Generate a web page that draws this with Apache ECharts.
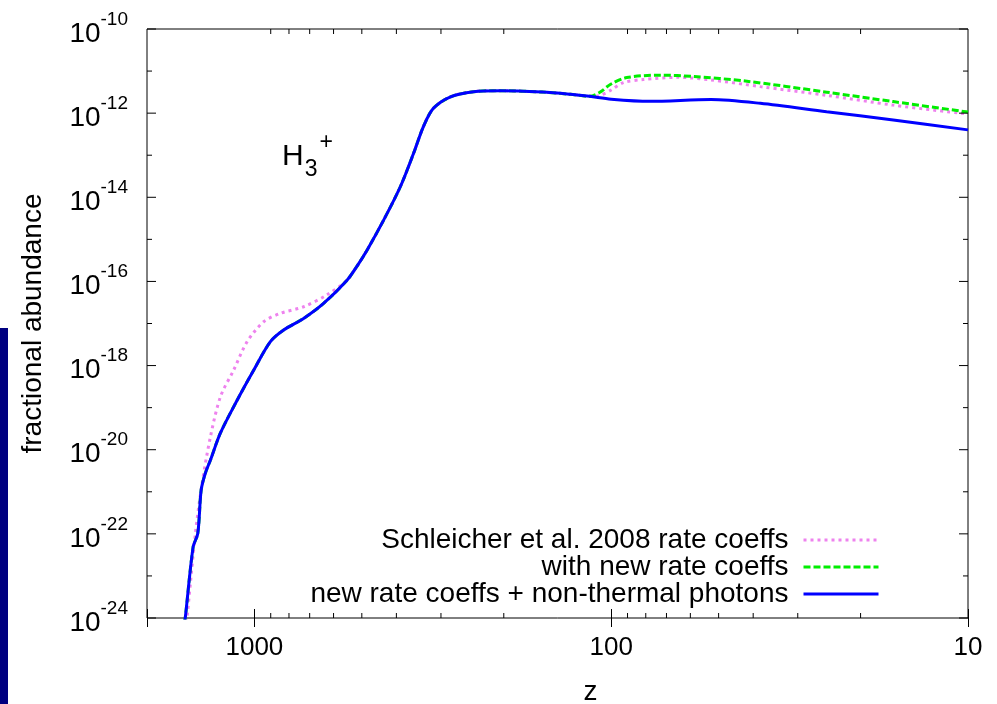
<!DOCTYPE html>
<html>
<head>
<meta charset="utf-8">
<script src="https://cdn.jsdelivr.net/npm/echarts@6/dist/echarts.min.js"></script>
<style>
  html, body { margin: 0; padding: 0; background: #fff; }
  #chart { width: 997px; height: 704px; }
</style>
</head>
<body>
<div id="chart"></div>
<script>
// H3+ fractional abundance versus redshift z for three chemistry models.

// new rate coeffs + non-thermal photons
const zPhot = [1571, 1561, 1485, 1441, 1410, 1372, 1328, 1245, 1118, 1004, 902, 828, 728, 640, 550, 515, 483, 434, 390, 358, 336, 315, 282, 243, 205, 156, 130, 115, 100, 78, 52.5, 38.2, 24.9, 16.2, 10];
const abPhot = [7.9e-25, 1.07e-24, 4.9e-23, 1.02e-22, 1.1e-21, 2.8e-21, 5.7e-21, 2.5e-20, 1.5e-19, 7.85e-19, 3.7e-18, 7.0e-18, 1.32e-17, 3.0e-17, 1.07e-16, 2.35e-16, 5.6e-16, 2.9e-15, 1.78e-14, 1.11e-13, 4.8e-13, 1.30e-12, 2.45e-12, 3.24e-12, 3.41e-12, 3.16e-12, 2.8e-12, 2.51e-12, 2.15e-12, 1.91e-12, 2.11e-12, 1.71e-12, 1.08e-12, 6.9e-13, 4.0e-13];

// with new rate coeffs
const zNew = [1571, 1561, 1485, 1441, 1410, 1372, 1328, 1245, 1118, 1004, 902, 828, 728, 640, 550, 515, 483, 434, 390, 358, 336, 315, 282, 243, 205, 156, 130, 115, 107.4, 100.6, 90.4, 72.9, 58.6, 42.1, 24.9, 16.2, 10];
const abNew = [7.9e-25, 1.07e-24, 4.9e-23, 1.02e-22, 1.1e-21, 2.8e-21, 5.7e-21, 2.5e-20, 1.5e-19, 7.85e-19, 3.7e-18, 7.0e-18, 1.32e-17, 3.0e-17, 1.07e-16, 2.35e-16, 5.6e-16, 2.9e-15, 1.78e-14, 1.11e-13, 4.8e-13, 1.30e-12, 2.45e-12, 3.24e-12, 3.41e-12, 3.16e-12, 2.8e-12, 2.51e-12, 3.16e-12, 4.8e-12, 7.0e-12, 8.0e-12, 7.4e-12, 5.8e-12, 3.15e-12, 1.88e-12, 1.06e-12];

// Schleicher et al. 2008 rate coeffs
const zS08 = [1555, 1544, 1463, 1401, 1328, 1245, 1143, 1048, 942, 846, 728, 626, 550, 515, 483, 434, 390, 358, 336, 315, 282, 243, 205, 156, 130, 115, 108, 100, 92.5, 81.3, 65.3, 52.8, 38.2, 24.9, 16.2, 10];
const abS08 = [7.9e-25, 1.07e-24, 1.05e-22, 1.62e-21, 2.04e-20, 1.82e-19, 7.85e-19, 3.7e-18, 1.1e-17, 1.74e-17, 2.5e-17, 4.8e-17, 1.07e-16, 2.35e-16, 5.6e-16, 2.9e-15, 1.78e-14, 1.11e-13, 4.8e-13, 1.30e-12, 2.45e-12, 3.24e-12, 3.41e-12, 3.16e-12, 2.8e-12, 2.51e-12, 2.61e-12, 3.55e-12, 5.3e-12, 6.3e-12, 7.1e-12, 6.2e-12, 4.27e-12, 2.65e-12, 1.55e-12, 9.5e-13];

const seriesNames = ['Schleicher et al. 2008 rate coeffs', 'with new rate coeffs', 'new rate coeffs + non-thermal photons'];

// axis ranges and tick values
const zMin = 10, zMax = 2000;
const abMin = 1e-24, abMax = 1e-10;
const zMajorTicks = [10, 100, 1000];
const zMinorTicks = [20, 30, 40, 50, 60, 70, 80, 90, 200, 300, 400, 500, 600, 700, 800, 900];
const abMajorTicks = [1e-24, 1e-22, 1e-20, 1e-18, 1e-16, 1e-14, 1e-12, 1e-10];
const abMinorTicks = [1e-23, 1e-21, 1e-19, 1e-17, 1e-15, 1e-13, 1e-11];

const FONT = '"Liberation Sans", Arial, Helvetica, sans-serif';
const pairs = (xs, ys) => xs.map((x, i) => [x, ys[i]]);

const chart = echarts.init(document.getElementById('chart'), null, { renderer: 'canvas' });

const xBase = {
  type: 'log', logBase: 10, min: zMin, max: zMax, inverse: true,
  axisLine: { show: false },
  splitLine: { show: false },
  minorTick: { show: false },
  axisTick: { show: true, inside: true, length: 9, lineStyle: { color: '#000', width: 1 } }
};
const yBase = {
  type: 'log', logBase: 10, min: abMin, max: abMax,
  axisLine: { show: false },
  splitLine: { show: false },
  axisTick: { show: false },
  minorTick: { show: false },
  axisLabel: { show: false }
};

const lineSeries = (name, data, color, type, z) => ({
  name, type: 'line', data, xAxisIndex: 0, yAxisIndex: 0,
  showSymbol: false, symbol: 'none', smooth: 0.3, z,
  lineStyle: { color, width: 3, type },
  itemStyle: { color },
  emphasis: { disabled: true }
});

const legendRow = (name, yc) => ({
  data: [name], orient: 'horizontal', align: 'right', right: 117, top: yc - 14,
  padding: 0, itemGap: 0, itemWidth: 75, itemHeight: 14, selectedMode: false,
  itemStyle: { color: 'transparent', borderColor: 'transparent', borderWidth: 0 },
  lineStyle: { width: 3 },
  textStyle: { fontSize: 28, fontFamily: FONT, color: '#000', lineHeight: 28, padding: [0, 10, 0, 0] }
});

// superscript power-of-ten label style
const powRich = {
  b: { fontSize: 28, fontFamily: FONT, fill: '#000', padding: [10, 0, 0, 0] },
  s: { fontSize: 19, fontFamily: FONT, fill: '#000', verticalAlign: 'top' }
};

// inward ticks on both vertical frame edges, with labels on the left for major ones
const yTickSeries = (values, len, withLabel) => ({
  type: 'custom', xAxisIndex: 0, yAxisIndex: 0, silent: true, clip: false, z: 5,
  data: values.map(v => [zMin, v]),
  renderItem: (params, api) => {
    const v = api.value(1);
    const l = api.coord([zMax, v]);
    const r = api.coord([zMin, v]);
    const st = { stroke: '#000', lineWidth: 1 };
    const children = [
      { type: 'line', shape: { x1: l[0], y1: l[1], x2: l[0] + len, y2: l[1] }, style: st },
      { type: 'line', shape: { x1: r[0], y1: r[1], x2: r[0] - len, y2: r[1] }, style: st }
    ];
    if (withLabel) {
      children.push({
        type: 'text',
        style: {
          text: '{b|10}{s|' + Math.round(Math.log10(v)) + '}',
          x: l[0] - 19, y: l[1], align: 'right', verticalAlign: 'middle',
          rich: powRich
        }
      });
    }
    return { type: 'group', children };
  }
});

chart.setOption({
  animation: false,
  backgroundColor: '#fff',
  grid: {
    left: 147, right: 29, top: 29, bottom: 86, containLabel: false, outerBoundsMode: 'none',
    show: true, borderColor: '#000', borderWidth: 1, backgroundColor: 'transparent'
  },
  xAxis: [
    Object.assign({}, xBase, {
      gridIndex: 0, position: 'bottom',
      name: 'z', nameLocation: 'middle', nameGap: 60,
      nameTextStyle: { fontSize: 28, fontFamily: FONT, color: '#000', padding: [0, 0, 0, 66] },
      axisLabel: {
        show: true, margin: 17, fontSize: 26, fontFamily: FONT, color: '#000',
        formatter: v => zMajorTicks.some(t => Math.abs(t - v) / t < 1e-6) ? String(Math.round(v)) : ''
      }
    }),
    Object.assign({}, xBase, { gridIndex: 0, position: 'top', axisLabel: { show: false } })
  ],
  yAxis: [
    Object.assign({}, yBase, {
      gridIndex: 0, position: 'left',
      name: 'fractional abundance', nameLocation: 'middle', nameGap: 100, nameMoveOverlap: false,
      nameTextStyle: { fontSize: 28, fontFamily: FONT, color: '#000' }
    }),
    Object.assign({}, yBase, { gridIndex: 0, position: 'right' })
  ],
  legend: [
    legendRow(seriesNames[0], 540),
    legendRow(seriesNames[1], 567),
    legendRow(seriesNames[2], 594)
  ],
  graphic: [
    { type: 'rect', left: 0, top: 328, shape: { width: 8, height: 376 }, style: { fill: '#000080' }, silent: true },
    {
      type: 'text', left: 282, top: 131, silent: true,
      style: {
        text: '{h|H}{d|3}{u|+}',
        rich: {
          h: { fontSize: 30, fontFamily: FONT, fill: '#000', padding: [11, 0, 9, 0] },
          d: { fontSize: 23, fontFamily: FONT, fill: '#000', verticalAlign: 'bottom', padding: [0, 2, 0, 1] },
          u: { fontSize: 23, fontFamily: FONT, fill: '#000', verticalAlign: 'top' }
        }
      }
    }
  ],
  series: [
    lineSeries(seriesNames[0], pairs(zS08, abS08), '#ee82ee', [3, 4], 2),
    lineSeries(seriesNames[1], pairs(zNew, abNew), '#00ee00', [7, 3], 3),
    lineSeries(seriesNames[2], pairs(zPhot, abPhot), '#0000ff', 'solid', 4),
    yTickSeries(abMajorTicks, 9, true),
    yTickSeries(abMinorTicks, 5, false),
    {
      // logarithmic minor ticks on the bottom and top z axes
      type: 'custom', xAxisIndex: 0, yAxisIndex: 0, silent: true, clip: false, z: 5,
      data: zMinorTicks.map(v => [v, abMin]),
      renderItem: (params, api) => {
        const b = api.coord([api.value(0), abMin]);
        const t = api.coord([api.value(0), abMax]);
        const st = { stroke: '#000', lineWidth: 1 };
        return {
          type: 'group',
          children: [
            { type: 'line', shape: { x1: b[0], y1: b[1], x2: b[0], y2: b[1] - 5 }, style: st },
            { type: 'line', shape: { x1: t[0], y1: t[1], x2: t[0], y2: t[1] + 5 }, style: st }
          ]
        };
      }
    }
  ]
});
</script>
</body>
</html>
